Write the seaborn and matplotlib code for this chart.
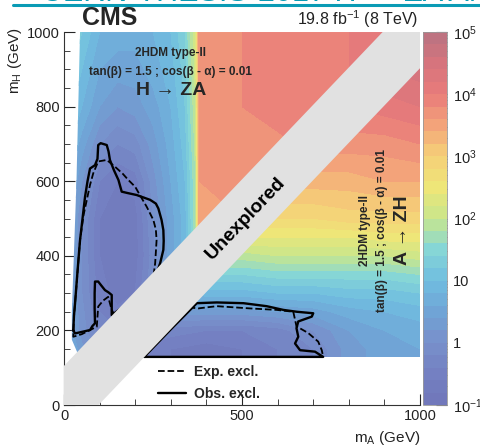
import numpy as np
import matplotlib
matplotlib.use("Agg")
import matplotlib.pyplot as plt
from matplotlib.patches import Polygon
from matplotlib.lines import Line2D
from matplotlib.ticker import MultipleLocator, FixedLocator
import seaborn as sns

sns.set_style("ticks")
plt.rcParams["font.family"] = ["Liberation Sans", "DejaVu Sans"]
plt.rcParams["mathtext.default"] = "regular"

# colour scale, log10(sigma x BR) nodes from 10^-1 to 10^5 in half decades
cbar_colors = ["#7076b9", "#7480c2", "#7890cb", "#70a4d6", "#70bde0", "#86d6d6",
               "#c8e68c", "#eee678", "#f5d078", "#f3a47a", "#e97c7a", "#d6747d", "#b97382"]
cbar_ticks = [-1, 0, 1, 2, 3, 4, 5]
cbar_labels = ["$10^{-1}$", "1", "10", "$10^{2}$", "$10^{3}$", "$10^{4}$", "$10^{5}$"]

# H -> ZA side (upper left), log10 values
ul_ma = [0, 50, 100, 150, 200, 250, 300, 340, 370, 380, 500, 650, 800, 900]
ul_mh = [100, 200, 300, 400, 500, 600, 700, 800, 900, 1000]
ul_log = [
    [0.8, 0.4, 0.1, 0.0, 0.0, 0.3, 0.6, 1.0, 1.7, 3.3, 3.4, 3.5, 3.6, 3.7],
    [0.7, 0.1, -0.3, -0.4, -0.3, 0.1, 0.5, 0.9, 1.7, 3.3, 3.4, 3.6, 3.7, 3.8],
    [0.7, 0.0, -0.5, -0.7, -0.6, 0.0, 0.5, 0.9, 1.7, 3.4, 3.5, 3.6, 3.7, 3.8],
    [0.7, 0.0, -0.6, -0.8, -0.7, -0.1, 0.5, 0.9, 1.7, 3.5, 3.6, 3.7, 3.8, 3.9],
    [0.8, 0.0, -0.6, -0.8, -0.7, 0.0, 0.5, 0.9, 1.8, 3.6, 3.6, 3.7, 3.8, 3.9],
    [0.9, 0.2, -0.4, -0.6, -0.5, 0.1, 0.6, 1.0, 1.8, 3.6, 3.7, 3.8, 3.9, 4.0],
    [1.0, 0.5, 0.0, -0.2, -0.1, 0.3, 0.7, 1.1, 1.9, 3.7, 3.7, 3.8, 3.9, 4.0],
    [1.2, 0.8, 0.4, 0.2, 0.3, 0.5, 0.8, 1.2, 2.0, 3.7, 3.8, 3.9, 4.0, 4.1],
    [1.4, 1.0, 0.6, 0.5, 0.5, 0.7, 0.9, 1.3, 2.1, 3.8, 3.8, 3.9, 4.0, 4.1],
    [1.5, 1.2, 0.8, 0.7, 0.7, 0.8, 1.0, 1.4, 2.2, 3.8, 3.8, 3.9, 4.0, 4.1],
]
ul_edge_ma = [45, 35, 22, 22, 40, 905]
ul_edge_mh = [1000, 600, 250, 175, 135, 1000]

# A -> ZH side (lower right), log10 values
lr_ma = [200, 300, 400, 500, 600, 700, 800, 900, 1000]
lr_mh = [100, 150, 200, 250, 300, 350, 400, 450, 500, 600, 700, 800, 900, 1000]
lr_log = [
    [-0.4, -0.6, -0.7, -0.6, -0.4, -0.2, 0.3, 0.5, 0.6],
    [-0.4, -0.6, -0.7, -0.6, -0.4, -0.2, 0.3, 0.5, 0.6],
    [-0.2, -0.3, -0.4, -0.4, -0.3, 0.0, 0.4, 0.6, 0.7],
    [0.3, 0.3, 0.3, 0.3, 0.4, 0.5, 0.7, 0.8, 0.9],
    [0.8, 0.8, 0.9, 0.9, 1.0, 1.0, 1.1, 1.1, 1.2],
    [1.3, 1.3, 1.4, 1.4, 1.5, 1.5, 1.5, 1.5, 1.6],
    [1.8, 1.8, 1.9, 1.9, 2.0, 2.0, 2.0, 2.0, 2.1],
    [2.3, 2.3, 2.3, 2.4, 2.4, 2.4, 2.4, 2.5, 2.5],
    [2.7, 2.7, 2.7, 2.8, 2.8, 2.8, 2.9, 2.9, 2.9],
    [3.2, 3.2, 3.2, 3.3, 3.3, 3.3, 3.3, 3.4, 3.4],
    [3.6, 3.6, 3.6, 3.6, 3.6, 3.7, 3.7, 3.7, 3.8],
    [3.9, 3.9, 3.9, 3.9, 3.9, 4.0, 4.0, 4.1, 4.2],
    [4.2, 4.2, 4.2, 4.2, 4.2, 4.2, 4.3, 4.4, 4.5],
    [4.4, 4.4, 4.4, 4.4, 4.4, 4.4, 4.5, 4.6, 4.7],
]
lr_edge_ma = [219, 1000, 1000]
lr_edge_mh = [129, 129, 910]

# unexplored diagonal band
band_ma = [-100, 1100, 1100, -100]
band_mh = [-197, 1003, 1205, 5]

# exclusion contours
obs_ul_ma = [26, 28, 31, 38, 45, 52, 59, 66, 73, 87, 94, 96, 103, 120, 125, 129, 140, 153, 162, 180,
             204, 242, 258, 265, 274, 279, 280, 279, 270, 260, 240, 190, 150, 134, 134, 134, 125, 115,
             105, 96, 87, 86, 86, 87, 80, 73, 50, 31, 26]
obs_ul_mh = [200, 240, 273, 360, 442, 500, 558, 600, 634, 643, 660, 697, 702, 697, 680, 657, 630, 603,
             572, 568, 563, 550, 540, 527, 496, 469, 440, 416, 380, 353, 320, 280, 252, 241, 270, 295,
             302, 308, 320, 331, 331, 300, 260, 219, 212, 201, 196, 192, 200]
exp_ul_ma = [143, 134, 124, 110, 96, 92, 73, 50, 26, 28, 35, 45, 55, 64, 73, 82, 96, 120, 143, 165,
             181, 200, 213, 232, 251, 258, 260, 258, 256, 251, 230, 190, 143]
exp_ul_mh = [240, 255, 290, 280, 264, 210, 201, 190, 183, 237, 320, 442, 510, 550, 590, 621, 653, 657,
             639, 620, 603, 585, 563, 532, 496, 470, 442, 410, 380, 344, 310, 275, 240]
obs_lr_ma = [225, 300, 373, 429, 504, 569, 616, 654, 700, 696, 658, 653, 658, 649, 663, 705, 728, 225]
obs_lr_mh = [129, 203, 273, 275, 273, 265, 255, 250, 246, 237, 224, 206, 183, 165, 147, 143, 129, 129]
exp_lr_ma = [350, 377, 429, 522, 597, 644, 653, 686, 714, 724, 728]
exp_lr_mh = [262, 259, 265, 259, 255, 250, 211, 193, 170, 147, 129]

cmap = sns.blend_palette(cbar_colors, as_cmap=True)
levels = np.linspace(-1, 5, 31)

fig = plt.figure(figsize=(4.81, 4.46), dpi=100)
ax = fig.add_axes([0.1331, 0.0919, 0.7401, 0.8363])
cax = fig.add_axes([0.8794, 0.0919, 0.0499, 0.8363])

ul = ax.contourf(ul_ma, ul_mh, ul_log, levels=levels, cmap=cmap, zorder=1)
ul.set_clip_path(Polygon(list(zip(ul_edge_ma, ul_edge_mh)), transform=ax.transData))
lr = ax.contourf(lr_ma, lr_mh, lr_log, levels=levels, cmap=cmap, zorder=1)
lr.set_clip_path(Polygon(list(zip(lr_edge_ma, lr_edge_mh)), transform=ax.transData))

for xs, ys, ls in [(obs_ul_ma, obs_ul_mh, "-"), (exp_ul_ma, exp_ul_mh, "--"),
                   (obs_lr_ma, obs_lr_mh, "-"), (exp_lr_ma, exp_lr_mh, "--")]:
    sns.lineplot(x=xs, y=ys, sort=False, estimator=None, color="black",
                 linestyle=ls, lw=1.7 if ls == "-" else 1.3, zorder=2, ax=ax)

ax.add_patch(Polygon(list(zip(band_ma, band_mh)), closed=True, facecolor="#e1e1e1",
                     edgecolor="none", zorder=3))
ax.text(511, 500, "Unexplored", rotation=46.3, ha="center", va="center",
        fontsize=14, fontweight="bold", color="black", zorder=4)

ax.set_xlim(0, 1000)
ax.set_ylim(0, 1000)
ax.set_xticks([0, 500, 1000])
ax.xaxis.set_minor_locator(MultipleLocator(100))
ax.set_yticks(range(0, 1001, 200))
ax.yaxis.set_minor_locator(MultipleLocator(50))
ax.tick_params(which="both", direction="in", labelsize=10.5, labelcolor="#222222", pad=3)
ax.tick_params(which="major", length=8)
ax.tick_params(which="minor", length=4.5)
sns.despine(ax=ax)
for s in ["left", "bottom"]:
    ax.spines[s].set_color("#333333")

ax.text(-0.138, 1.013, "m$_H$ (GeV)", rotation=90, ha="center", va="top",
        fontsize=11, color="#222222", transform=ax.transAxes)
ax.text(1.0, -0.088, "m$_A$ (GeV)", ha="right", va="center",
        fontsize=11, color="#222222", transform=ax.transAxes)

# model annotations
note = "tan(\u03b2) = 1.5 ; cos(\u03b2 - \u03b1) = 0.01"
ax.text(300, 944, "2HDM type-II", ha="center", va="center", fontsize=8.5, fontweight="bold", zorder=5)
ax.text(300, 893, note, ha="center", va="center", fontsize=8.5, fontweight="bold", zorder=5)
ax.text(300, 843, "H \u2192 ZA", ha="center", va="center", fontsize=14, fontweight="bold", zorder=5)
ax.text(846, 469, "2HDM type-II", rotation=90, ha="center", va="center", fontsize=8.5,
        fontweight="bold", zorder=5)
ax.text(893, 469, note, rotation=90, ha="center", va="center", fontsize=8.5, fontweight="bold", zorder=5)
ax.text(952, 469, "A \u2192 ZH", rotation=90, ha="center", va="center", fontsize=14,
        fontweight="bold", zorder=5)

handles = [Line2D([], [], color="black", ls="--", lw=1.3), Line2D([], [], color="black", ls="-", lw=1.7)]
ax.legend(handles, ["Exp. excl.", "Obs. excl."], loc="lower left", bbox_to_anchor=(0.265, 0.012),
          frameon=False, handlelength=2.0, handletextpad=0.6, labelspacing=0.55, borderpad=0,
          borderaxespad=0, prop={"weight": "bold", "size": 10})

cbar = fig.colorbar(lr, cax=cax)
cbar.set_ticks(cbar_ticks)
cbar.set_ticklabels(cbar_labels)
minor = [d + np.log10(k) for d in range(-1, 5) for k in range(2, 10)]
cax.yaxis.set_minor_locator(FixedLocator(minor))
cax.tick_params(which="both", direction="in", labelsize=10.5, labelcolor="#222222", pad=4, color="#333355")
cax.tick_params(which="major", length=8)
cax.tick_params(which="minor", length=4)
cbar.outline.set_edgecolor("#999999")
cbar.outline.set_linewidth(0.6)

fig.text(0.170, 0.944, "CMS", fontsize=18, fontweight="bold", ha="left", va="baseline")
fig.text(0.869, 0.944, "19.8 fb$^{-1}$ (8 TeV)", fontsize=11.5, ha="right", va="baseline", color="#222222")
# link caption cut off at the top edge of the image
fig.text(0.085, 0.997, "CERN-THESIS-2017 H \u2192 ZA ANALYSIS", fontsize=22, color="#0a9bb5",
         ha="left", va="baseline")
fig.add_artist(Line2D([0.027, 1.0], [0.9877, 0.9877], color="#0a9bb5", lw=2.2, transform=fig.transFigure))

fig.savefig("out.png", dpi=100)
